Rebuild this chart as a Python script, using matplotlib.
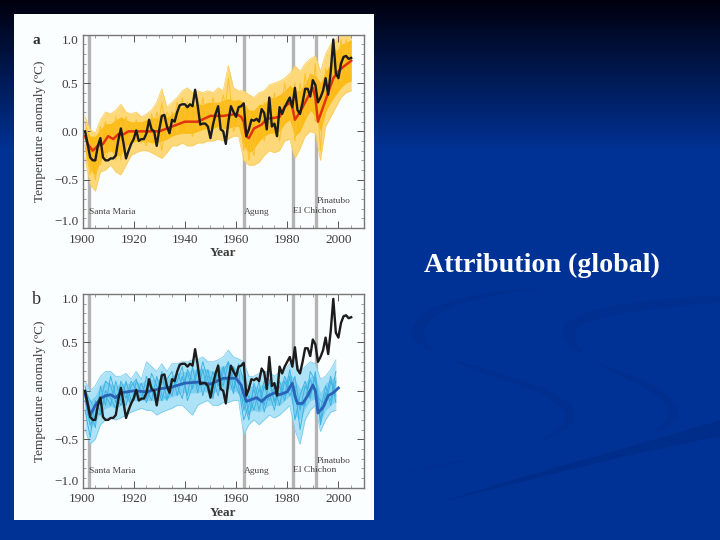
import numpy as np
import matplotlib
matplotlib.use("Agg")
import matplotlib.pyplot as plt
from matplotlib.path import Path
from matplotlib.patches import PathPatch, Rectangle
from matplotlib.ticker import MultipleLocator

#------ data ----------------------------------------------#
obs_years = np.arange(1901, 2006)
obs = [0.0, -0.13, -0.27, -0.30, -0.30, -0.15, -0.07, -0.27, -0.30, -0.30,
       -0.28, -0.28, -0.25, -0.09, 0.03, -0.12, -0.28, -0.20, -0.13, -0.08,
       0.01, -0.10, -0.08, -0.08, -0.02, 0.12, 0.02, 0.0, -0.15, 0.02,
       0.16, 0.17, 0.05, -0.02, 0.12, 0.10, 0.20, 0.27, 0.28, 0.28,
       0.25, 0.28, 0.26, 0.43, 0.27, 0.07, 0.08, 0.08, 0.05, -0.07,
       0.07, 0.18, 0.26, 0.02, 0.0, -0.13, 0.10, 0.26, 0.20, 0.15,
       0.25, 0.26, 0.29, -0.05, 0.02, 0.12, 0.11, 0.13, 0.10, 0.23,
       0.19, 0.02, 0.35, 0.05, 0.08, -0.05, 0.25, 0.18, 0.25, 0.30,
       0.35, 0.25, 0.45, 0.22, 0.18, 0.30, 0.44, 0.44, 0.36, 0.53,
       0.48, 0.30, 0.35, 0.42, 0.55, 0.38, 0.62, 0.95, 0.60, 0.55,
       0.70, 0.77, 0.78, 0.75, 0.76]

# panel a : all forcings, envelopes every 2 years
a_years = np.arange(1901, 2006, 2)
a_hi_outer = [.15, .02, -.02, .12, .2, .18, .22, .28, .2, .18, .2, .15, .18, .22, .3, .44, .25, .3,
              .35, .42, .45, .4, .42, .4, .42, .4, .45, .42, .68, .45, .42, .42, .38, .35, .4, .42,
              .48, .5, .52, .55, .6, .68, .62, .7, .75, .78, .62, .8, .9, .95, 1.02, 1.05, 1.02]
a_lo_outer = [-.28, -.55, -.62, -.42, -.4, -.35, -.42, -.45, -.35, -.25, -.22, -.2, -.2, -.22, -.25, -.28, -.22, -.15,
              -.15, -.12, -.15, -.15, -.12, -.12, -.1, -.1, -.08, -.1, -.08, -.05, -.05, -.3, -.35, -.35, -.32, -.25,
              -.2, -.22, -.2, -.1, -.08, -.28, -.18, -.05, .0, -.02, -.3, .05, .15, .25, .35, .4, .42]
a_hi = [.05, -.05, -.05, .02, .08, .08, .12, .15, .12, .1, .1, .1, .12, .14, .14, .18, .15, .18,
        .22, .25, .28, .28, .28, .28, .3, .3, .3, .32, .34, .32, .33, .3, .22, .22, .28, .28,
        .35, .35, .38, .42, .48, .42, .42, .5, .6, .58, .5, .62, .7, .82, .9, .92, .95]
a_lo = [-.2, -.4, -.45, -.3, -.22, -.2, -.25, -.25, -.15, -.12, -.1, -.1, -.1, -.12, -.12, -.1, -.08, -.05,
        -.03, -.02, -.02, -.02, .0, .02, .03, .03, .05, .03, .03, .05, .05, -.15, -.22, -.18, -.1, -.05,
        -.02, -.02, .0, .08, .12, -.05, .0, .12, .22, .15, .0, .2, .3, .38, .45, .5, .52]
a_m1 = [.0, -.3, -.5, -.1, .1, -.2, .05, -.3, .1, -.05, .05, -.12, .1, -.1, .2, .0, .12, -.02, .3, .08, .3, .05, .35, .05, .25, .05,
        .3, .0, .55, .1, .28, -.2, .2, -.2, .15, .05, .35, .0, .3, .1, .45, -.1, .35, .15, .6, .1, .3, .5, .4, .7, .6, .85, .7]
a_m2 = [-.15, -.45, -.15, -.35, -.1, .05, -.3, .1, -.2, .08, -.1, .08, -.12, .18, -.05, .3, -.05, .2, .0, .35, .0, .3, .02, .35, .05, .35,
        .08, .38, .1, .3, .05, .25, -.3, .15, .0, .3, .0, .4, .08, .5, .15, .5, .05, .6, .2, .7, -.2, .65, .35, .85, .5, .95, .55]
a_m3 = [.1, -.15, -.3, .05, -.3, -.1, .15, -.15, .15, -.1, .12, -.05, -.15, .05, .1, -.2, .2, .1, -.02, .2, .18, -.05, .2, .2, .02, .2,
        .15, .12, .3, .0, .12, .1, -.1, -.25, .25, -.1, .2, .2, -.1, .3, .25, .0, .5, .25, .35, .55, .1, .25, .7, .45, .95, .6, .9]
a_mean_years = [1901, 1902, 1904, 1906, 1908, 1910, 1912, 1914, 1916, 1918, 1920, 1925, 1930, 1935, 1940, 1945,
                1950, 1955, 1960, 1962, 1963, 1964, 1965, 1967, 1970, 1972, 1975, 1977, 1979, 1981, 1982, 1983,
                1985, 1988, 1990, 1991, 1992, 1994, 1996, 1998, 2000, 2002, 2005]
a_mean = [-.05, -.13, -.2, -.15, -.13, -.05, -.08, -.03, -.03, .0, .0, .0, .0, .05, .1, .1,
          .16, .16, .18, .15, .1, -.05, -.07, .03, .07, .13, .14, .15, .25, .3, .25, .12,
          .2, .35, .45, .35, .1, .25, .4, .55, .62, .67, .73]

# panel b : natural forcings only
b_years = np.arange(1901, 2000, 2)
b_hi_outer = [.1, .0, .05, .15, .2, .2, .15, .15, .18, .12, .2, .12, .3, .25, .2, .28, .2, .28,
              .28, .3, .3, .32, .32, .35, .3, .3, .32, .35, .42, .35, .33, .3, .15, .15, .18, .2,
              .2, .15, .2, .22, .28, .35, .2, .25, .3, .28, .12, .15, .22, .32]
b_lo_outer = [-.4, -.55, -.5, -.35, -.3, -.28, -.3, -.28, -.25, -.22, -.2, -.18, -.2, -.2, -.25, -.22, -.2, -.18,
              -.15, -.15, -.2, -.25, -.15, -.12, -.1, -.15, -.15, -.12, -.12, -.1, -.1, -.45, -.35, -.3, -.35, -.3,
              -.25, -.28, -.25, -.2, -.15, -.4, -.55, -.3, -.2, -.15, -.42, -.3, -.22, -.2]
b_hi = [.03, -.1, -.05, .05, .1, .08, .05, .08, .08, .08, .1, .08, .12, .12, .12, .14, .12, .16, .18, .2, .2, .22, .22, .24, .22,
        .2, .24, .26, .26, .25, .22, .15, .05, .05, .05, .08, .08, .08, .08, .12, .18, .12, .02, .08, .15, .15, -.02, .08, .12, .15]
b_lo = [-.2, -.4, -.32, -.22, -.18, -.16, -.18, -.15, -.12, -.1, -.1, -.1, -.1, -.1, -.1, -.1, -.08, -.06, -.04, -.02, -.02, -.02, -.02, .0, -.02,
        -.02, .0, .0, .02, .0, -.02, -.22, -.22, -.2, -.22, -.18, -.15, -.15, -.15, -.1, -.05, -.25, -.3, -.18, -.1, -.08, -.32, -.2, -.15, -.1]
b_m1 = [-.1, -.35, -.25, -.1, .1, .05, -.12, .05, -.08, .1, .02, -.1, .15, .0, -.12, .1, .02, -.05, .2, .05, .18, .02, .2, .05, .22,
        -.05, .18, .05, .3, .02, .2, -.2, -.05, -.2, .02, -.15, .1, -.12, .05, -.1, .15, -.3, -.05, .1, -.08, .2, -.3, -.02, -.1, .2]
b_m2 = [.05, -.2, -.38, .05, -.15, .15, -.05, -.15, .1, -.1, -.05, .08, -.08, .18, .05, -.1, .12, .2, -.05, .15, -.05, .25, -.02, .22, .0,
        .2, .05, .25, .02, .25, .05, -.3, -.15, .02, -.2, .05, -.1, .05, -.15, .1, -.05, .05, -.4, -.1, .12, -.02, -.1, -.15, .1, -.05]
b_m3 = [-.2, -.48, -.1, -.22, -.05, -.15, .1, -.1, -.15, .05, .12, -.05, .02, -.1, .15, -.05, -.08, .12, .05, -.08, .22, .1, .05, .3, .12,
        -.08, .28, .1, .15, -.03, .28, .1, -.25, -.1, .1, -.22, -.02, -.2, .1, -.05, .22, -.1, -.15, -.15, .2, .1, -.2, .05, -.15, .1]
b_m4 = [.0, -.1, -.2, -.25, .0, -.08, -.18, .1, -.02, -.15, .1, .0, -.12, .05, -.05, .2, -.1, .02, .1, .25, -.1, .05, .25, -.05, .15,
        .12, -.05, .2, .3, .12, -.02, -.1, -.3, .08, -.1, .1, .12, -.1, -.05, .15, .0, .15, -.2, .05, -.05, .15, -.35, -.08, .15, -.12]
b_mean_years = [1901, 1903, 1905, 1907, 1909, 1911, 1913, 1915, 1920, 1925, 1930, 1935, 1940, 1945, 1950, 1955,
                1960, 1962, 1963, 1964, 1966, 1968, 1970, 1972, 1975, 1977, 1980, 1982, 1983, 1984, 1986, 1988,
                1990, 1991, 1992, 1994, 1996, 1998, 2000]
b_mean = [-.03, -.25, -.15, -.08, -.05, -.04, -.07, -.02, .0, -.01, .02, .04, .08, .09, .07, .13,
          .13, .06, -.03, -.11, -.09, -.07, -.11, -.06, -.02, -.04, -.01, .08, -.05, -.13, -.13, -.05,
          .06, .0, -.23, -.17, -.05, -.02, .03]

volcano_years = [1902.7, 1963.2, 1982.2, 1991.4]
volcano_names = ["Santa Maria", "Agung", "El Chichon", "Pinatubo"]
volcano_y = [-.83, -.83, -.82, -.72]
x_ticks = [1900, 1920, 1940, 1960, 1980, 2000]
y_ticks = [-1.0, -0.5, 0.0, 0.5, 1.0]
#----------------------------------------------------#

W, H = 720, 540
SERIF = "Liberation Serif"
TXT = "#3c3c3c"
GREY = "#b4b4b4"

fig = plt.figure(figsize=(W/100, H/100), dpi=100)

# slide background, coords in pixels
bg = fig.add_axes([0, 0, 1, 1])
bg.set_xlim(0, W)
bg.set_ylim(H, 0)
bg.axis("off")
t = np.clip(np.linspace(0, 1, H)/0.28, 0, 1)
top, bot = np.array([0, 0, 14])/255, np.array([0, 50, 150])/255
grad = (top + (bot-top)*t[:, None])[:, None, :]
bg.imshow(grad, extent=[0, W, H, 0], aspect="auto", zorder=0)

def swoosh(verts, col="#012f90"):
    # outline made of bezier pieces : start point then triples
    codes = [Path.MOVETO] + [Path.CURVE4]*(len(verts)-1)
    bg.add_patch(PathPatch(Path(verts, codes), fc=col, ec="none", zorder=1))

swoosh([(556, 286), (490, 290), (412, 300), (412, 333),
        (412, 365), (575, 375), (575, 417),
        (575, 445), (450, 460), (380, 477),
        (450, 465), (565, 445), (565, 417),
        (565, 385), (424, 370), (424, 335),
        (424, 305), (490, 295), (556, 286)])
swoosh([(720, 295), (660, 298), (563, 305), (563, 333),
        (563, 365), (677, 375), (677, 413),
        (677, 425), (665, 430), (647, 434),
        (660, 428), (668, 422), (668, 413),
        (668, 385), (575, 370), (575, 335),
        (575, 315), (650, 310), (720, 302),
        (720, 300), (720, 298), (720, 295)])
swoosh([(720, 420), (640, 445), (540, 470), (437, 503),
        (540, 478), (640, 450), (720, 437),
        (720, 430), (720, 425), (720, 420)], col="#012d8a")

bg.add_patch(Rectangle((14, 14), 360, 506, fc="#fbfefe", ec="none", zorder=2))
bg.text(424, 265, "Attribution (global)", family=SERIF, weight="bold", fontsize=20.2,
        color="white", va="center", ha="left", zorder=3)
bg.text(36, 40, "a", family=SERIF, weight="bold", fontsize=11, color="#303030", va="center", ha="center", zorder=3)
bg.text(36, 300, "b", family=SERIF, fontsize=13, color="#303030", va="center", ha="center", zorder=3)

def panel(top_px, bot_px):
    ax = fig.add_axes([82.5/W, 1-bot_px/H, (364-82.5)/W, (bot_px-top_px)/H])
    ax.set_xlim(1900, 2010)
    ax.set_ylim(-1, 1)
    ax.set_facecolor("none")
    ax.xaxis.set_minor_locator(MultipleLocator(5))
    ax.yaxis.set_minor_locator(MultipleLocator(0.1))
    ax.set_xticks(x_ticks)
    ax.set_yticks(y_ticks)
    ax.set_xticklabels([str(v) for v in x_ticks], family=SERIF, fontsize=9.5, color=TXT)
    labs = ax.set_yticklabels(["\u22121.0", "\u22120.5", "0.0", "0.5", "1.0"], family=SERIF, fontsize=9.5, color=TXT)
    labs[0].set_va("bottom")
    labs[-1].set_va("top")
    ax.tick_params(which="major", direction="in", top=True, right=True, length=5, width=0.7, color="#555555")
    ax.tick_params(axis="x", which="major", pad=4)
    ax.tick_params(axis="y", which="major", pad=3)
    ax.tick_params(which="minor", direction="in", top=True, right=True, length=2.5, width=0.5, color="#777777")
    for s in ax.spines.values():
        s.set_color("#777777")
        s.set_linewidth(1.0)
    ax.set_xlabel("Year", family=SERIF, fontsize=9.5, color=TXT, weight="bold", labelpad=1)
    ax.set_ylabel("Temperature anomaly (\u00baC)", family=SERIF, fontsize=9.5, color=TXT, labelpad=6)
    for yr, name, yy in zip(volcano_years, volcano_names, volcano_y):
        ax.axvline(yr, color=GREY, lw=2.4, zorder=0.5)
        ax.text(yr, yy, name, family=SERIF, fontsize=6.8, color="#444444", zorder=6, va="center")
    return ax

# panel a
ax = panel(34.7, 228)
ax.fill_between(a_years, a_lo_outer, a_hi_outer, color="#fdd878", lw=0, zorder=1)
ax.plot(a_years, a_hi_outer, color="#f9cf63", lw=0.6, zorder=1)
ax.plot(a_years, a_lo_outer, color="#f9cf63", lw=0.6, zorder=1)
ax.fill_between(a_years, a_lo, a_hi, color="#fcbc18", lw=0, zorder=2)
for m in (a_m1, a_m2, a_m3):
    ax.plot(a_years, m, color="#fbc12c", lw=0.7, zorder=2)
ax.plot(a_mean_years, a_mean, color="#e2330f", lw=1.8, zorder=3)
ax.plot(obs_years, obs, color="#1c1c1c", lw=1.7, zorder=4)

# panel b
ax = panel(294, 487.7)
ax.fill_between(b_years, b_lo_outer, b_hi_outer, color="#ade2f7", lw=0, zorder=1)
ax.plot(b_years, b_hi_outer, color="#7dcdee", lw=0.6, zorder=1)
ax.plot(b_years, b_lo_outer, color="#7dcdee", lw=0.6, zorder=1)
ax.fill_between(b_years, b_lo, b_hi, color="#7fd0f0", lw=0, zorder=2)
for m in (b_m1, b_m2, b_m3, b_m4):
    ax.plot(b_years, m, color="#3fb2e2", lw=0.7, zorder=2)
ax.plot(b_mean_years, b_mean, color="#2a62b8", lw=2.0, zorder=3)
ax.plot(obs_years, obs, color="#1c1c1c", lw=1.7, zorder=4)

fig.savefig("out.png", dpi=100)
